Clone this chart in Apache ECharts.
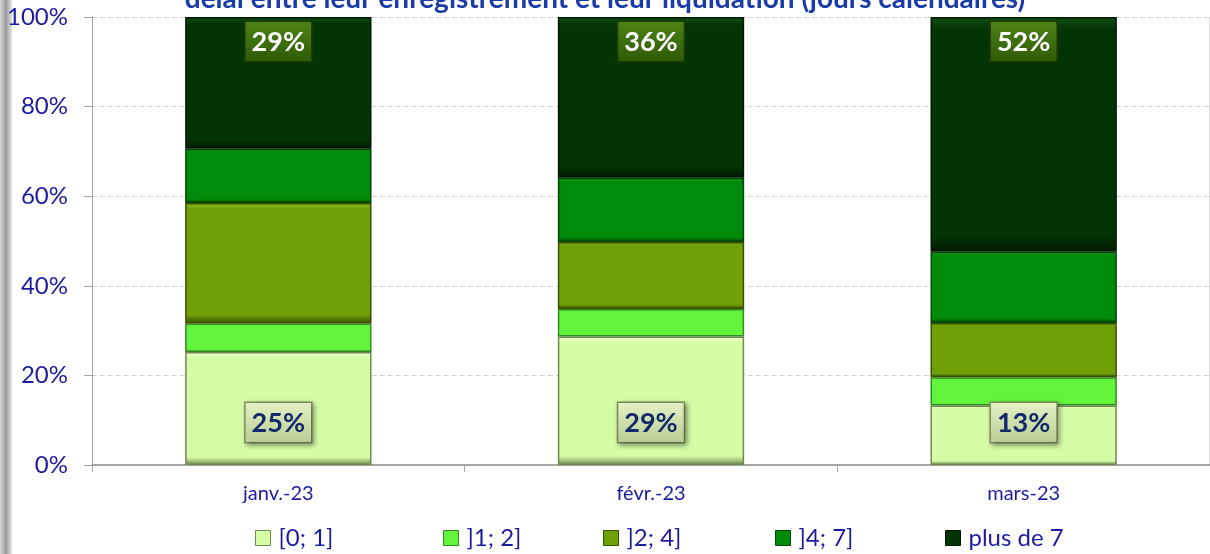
<!DOCTYPE html>
<html>
<head>
<meta charset="utf-8">
<script src="https://cdn.jsdelivr.net/npm/echarts@6/dist/echarts.min.js"></script>
<style>
  html, body { margin: 0; padding: 0; background: #fff; }
  #chart { width: 1210px; height: 554px; }
</style>
</head>
<body>
<div id="chart"></div>
<script>
// données (en % du total mensuel)
var months = ['janv.-23', 'févr.-23', 'mars-23'];
var seriesNames = ['[0; 1]', ']1; 2]', ']2; 4]', ']4; 7]', 'plus de 7'];
var d0_1 = [25.2, 28.7, 13.3];
var d1_2 = [6.4, 6.1, 6.3];
var d2_4 = [26.9, 15.0, 12.1];
var d4_7 = [12.1, 14.3, 15.9];
var dPlus7 = [29.4, 35.9, 52.4];
var yTicks = [0, 20, 40, 60, 80, 100];

var textBlue = '#1c1ca0';
var font = 'Lato';

// base, clair, foncé
var palette = [
  ['#d6fca6', '#f7ffd4', '#6e8a4e'],
  ['#62f43a', '#9cff7a', '#368a26'],
  ['#70a008', '#8cbc22', '#3a5000'],
  ['#008a0a', '#22a82a', '#004806'],
  ['#033504', '#145016', '#011802']
];

function bevel(p) {
  return new echarts.graphic.LinearGradient(0, 0, 0, 1, [
    { offset: 0, color: p[1] },
    { offset: 0.05, color: p[0] },
    { offset: 0.93, color: p[0] },
    { offset: 1, color: p[2] }
  ]);
}

var bottomLabel = {
  show: true,
  position: 'insideBottom',
  distance: 23,
  formatter: function (p) { return Math.round(p.value) + '%'; },
  color: '#14286e',
  fontFamily: font,
  fontWeight: 'bold',
  fontSize: 27,
  padding: [7, 6, 5, 6],
  backgroundColor: new echarts.graphic.LinearGradient(0, 0, 0, 1, [
    { offset: 0, color: '#e4f2c4' },
    { offset: 1, color: '#b8cc92' }
  ]),
  borderColor: '#7e9060',
  borderWidth: 1.5,
  shadowColor: 'rgba(0,0,0,0.35)',
  shadowBlur: 5,
  shadowOffsetX: 2,
  shadowOffsetY: 2
};

var topLabel = {
  show: true,
  position: 'insideTop',
  distance: 5,
  formatter: function (p) { return Math.round(p.value) + '%'; },
  color: '#ffffff',
  fontFamily: font,
  fontWeight: 'bold',
  fontSize: 27,
  padding: [7, 6, 5, 6],
  backgroundColor: new echarts.graphic.LinearGradient(0, 0, 0, 1, [
    { offset: 0, color: '#4c8414' },
    { offset: 1, color: '#2e5a08' }
  ]),
  borderColor: '#1e3a04',
  borderWidth: 1.5
};

var dataSets = [d0_1, d1_2, d2_4, d4_7, dPlus7];
var series = dataSets.map(function (vals, i) {
  var s = {
    name: seriesNames[i],
    type: 'bar',
    stack: 'total',
    barWidth: '50%',
    data: vals,
    itemStyle: {
      color: bevel(palette[i]),
      borderColor: palette[i][2],
      borderWidth: 1.5
    },
    emphasis: { disabled: true }
  };
  if (i === 0) s.label = bottomLabel;
  if (i === 4) s.label = topLabel;
  return s;
});

var legendX = [250, 438, 598, 770, 940];
var legends = seriesNames.map(function (n, i) {
  return {
    data: [{ name: n, icon: 'rect', itemStyle: { color: palette[i][0], borderColor: palette[i][2], borderWidth: 1 } }],
    left: legendX[i],
    top: 521,
    itemWidth: 15,
    itemHeight: 15,
    itemGap: 0,
    selectedMode: false,
    textStyle: { color: textBlue, fontFamily: font, fontSize: 24, padding: [0, 0, 0, 3] }
  };
});

var chart = echarts.init(document.getElementById('chart'));
chart.setOption({
  animation: false,
  backgroundColor: '#ffffff',
  title: {
    text: 'délai entre leur enregistrement et leur liquidation (jours calendaires)',
    left: 'center',
    top: -20,
    textStyle: { color: '#1a3ca8', fontFamily: font, fontWeight: 'bold', fontSize: 28 }
  },
  graphic: [{
    type: 'rect',
    shape: { x: 0, y: 0, width: 12, height: 554 },
    style: {
      fill: new echarts.graphic.LinearGradient(0, 0, 1, 0, [
        { offset: 0, color: '#d8d8d8' },
        { offset: 0.5, color: '#9a9a9a' },
        { offset: 1, color: '#e4e4e4' }
      ])
    }
  }, {
    type: 'line',
    shape: { x1: 1209.5, y1: 17, x2: 1209.5, y2: 465 },
    style: { stroke: '#d9d9d9', lineWidth: 1 }
  }],
  legend: legends,
  grid: { left: 92, right: 0, top: 17, bottom: 89, containLabel: false },
  xAxis: {
    type: 'category',
    data: months,
    axisLine: { lineStyle: { color: '#8c8c8c', width: 1.5 } },
    axisTick: { show: true, length: 7, lineStyle: { color: '#a6a6a6' } },
    axisLabel: { color: textBlue, fontFamily: font, fontSize: 20, margin: 19 },
    splitLine: { show: false }
  },
  yAxis: {
    type: 'value',
    min: yTicks[0],
    max: yTicks[yTicks.length - 1],
    interval: 20,
    axisLine: { show: true, lineStyle: { color: '#a6a6a6' } },
    axisTick: { show: true, length: 8, lineStyle: { color: '#a6a6a6' } },
    axisLabel: {
      color: textBlue, fontFamily: font, fontSize: 24, margin: 24,
      formatter: function (v) { return v + '%'; }
    },
    splitLine: { show: true, lineStyle: { color: '#d4d4d4', type: [5, 3] } }
  },
  series: series
});
</script>
</body>
</html>
